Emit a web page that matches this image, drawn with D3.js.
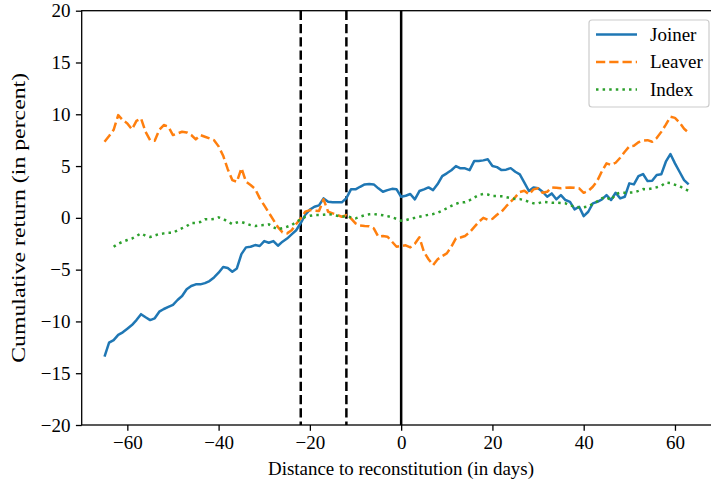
<!DOCTYPE html>
<html><head><meta charset="utf-8">
<script src="https://cdn.jsdelivr.net/npm/d3@7"></script>
<style>body{margin:0;background:#fff}svg{display:block}text{font-family:"Liberation Serif","DejaVu Serif",serif}</style>
</head><body><svg id="c" width="711" height="487"></svg>
<script>
const days = d3.range(-65, 64);
const joiner = [-13.4,-12.05,-11.8,-11.3,-11.05,-10.7,-10.35,-9.87,-9.3,-9.6,-9.87,-9.7,-9.06,-8.8,-8.6,-8.4,-7.93,-7.55,-6.9,-6.58,-6.42,-6.42,-6.3,-6.1,-5.75,-5.3,-4.75,-4.85,-5.2,-4.88,-3.5,-2.85,-2.79,-2.63,-2.72,-2.24,-2.4,-2.24,-2.69,-2.3,-2.0,-1.6,-1.2,-0.5,0.3,0.8,1.07,1.2,1.88,1.55,1.5,1.5,1.5,1.9,2.75,2.75,3.0,3.23,3.26,3.23,2.85,2.52,2.68,2.8,2.75,2.04,2.13,2.3,1.79,2.59,2.75,2.94,2.68,3.26,4.03,4.3,4.6,5.0,4.78,4.78,4.61,5.48,5.48,5.55,5.65,5.0,4.9,4.61,4.65,4.8,4.45,4.2,3.4,2.59,2.94,2.85,2.52,2.04,2.36,1.79,2.2,1.72,1.55,0.82,1.07,0.17,0.59,1.4,1.55,1.79,2.2,1.72,2.42,1.88,2.04,3.33,3.23,4.03,4.23,3.55,3.58,4.13,4.2,5.42,6.16,5.26,4.45,3.65,3.23];
const leaver = [7.35,7.9,8.5,9.92,9.44,9.12,8.54,9.37,9.6,8.3,7.5,7.44,8.5,8.96,8.8,7.99,8.15,8.31,8.25,8.0,7.58,7.99,7.83,7.67,7.5,6.9,6.0,4.7,3.65,3.48,4.8,3.5,3.17,2.8,1.9,1.2,0.5,-0.2,-0.9,-1.4,-1.5,-1.2,-0.6,-0.05,0.6,0.75,0.7,0.66,1.79,0.59,0.43,0.27,0.11,0.27,-0.05,-0.53,-0.75,-0.79,-0.8,-1.01,-1.82,-1.76,-1.82,-2.3,-2.79,-2.72,-2.65,-2.85,-2.5,-1.88,-3.3,-4.0,-4.56,-4.0,-3.69,-3.43,-2.79,-1.98,-1.9,-1.75,-1.4,-0.9,-0.4,0.0,-0.2,-0.1,0.3,0.6,1.1,1.55,2.0,2.5,2.62,2.27,2.75,2.85,2.42,2.52,2.94,2.9,2.85,2.9,2.94,2.9,2.85,2.42,2.6,3.0,3.6,4.5,5.26,5.1,5.32,5.8,6.38,6.9,6.96,7.3,7.45,7.5,7.35,7.7,8.3,9.0,9.76,9.65,9.2,8.6,8.22];
const indexDays = d3.range(-63, 64);
const indexVals = [-2.79,-2.5,-2.3,-2.14,-2.0,-1.75,-1.5,-1.73,-1.85,-1.7,-1.56,-1.5,-1.44,-1.44,-1.2,-1.0,-0.8,-0.5,-0.5,-0.4,-0.14,-0.14,-0.1,0.05,-0.1,-0.35,-0.6,-0.45,-0.4,-0.55,-0.7,-0.79,-0.72,-0.7,-0.63,-0.9,-1.1,-1.0,-0.86,-0.7,-0.4,-0.14,0.1,0.2,0.27,0.27,0.3,0.37,0.3,0.2,0.11,0.17,0.05,-0.05,0.11,0.25,0.34,0.37,0.3,0.25,0.17,0.05,-0.1,-0.28,-0.22,-0.1,0.0,0.1,0.2,0.3,0.37,0.5,0.7,0.92,1.15,1.35,1.5,1.5,1.7,1.95,2.2,2.3,2.25,2.1,2.1,2.08,2.0,1.9,1.82,1.81,1.7,1.55,1.4,1.4,1.55,1.5,1.46,1.46,1.43,1.4,1.2,1.1,1.01,1.01,1.1,1.35,1.6,1.9,2.0,1.7,2.3,2.42,2.42,2.44,2.46,2.6,2.78,2.76,2.85,2.95,3.1,3.4,3.35,3.2,3.07,2.8,2.62];
const xTicks = [-60,-40,-20,0,20,40,60];
const yTicks = [-20,-15,-10,-5,0,5,10,15,20];
const dashedEvents = [-22,-12];
const solidEvents = [0];
const seriesNames = ["Joiner","Leaver","Index"];

const svg = d3.select("#c");
const x = d3.scaleLinear().domain([-70,70]).range([81.7,720.6]);
const y = d3.scaleLinear().domain([-20,20]).range([425,10.7]);
const FS = "19px";
const colors = ["#1f77b4","#ff7f0e","#2ca02c"];
const dashes = [null,"9.25,4","2.5,4.1"];

dashedEvents.forEach(d=>svg.append("line").attr("x1",x(d)).attr("x2",x(d)).attr("y1",y(20)).attr("y2",y(-20))
  .attr("stroke","#000").attr("stroke-width",2.5).attr("stroke-dasharray","9.25,4"));
solidEvents.forEach(d=>svg.append("line").attr("x1",x(d)).attr("x2",x(d)).attr("y1",y(20)).attr("y2",y(-20))
  .attr("stroke","#000").attr("stroke-width",2.5));

const line = d3.line().x(d=>x(d[0])).y(d=>y(d[1]));
const data = [d3.zip(days,joiner), d3.zip(days,leaver), d3.zip(indexDays,indexVals)];
data.forEach((dd,i)=>{
  svg.append("path").attr("d",line(dd)).attr("fill","none").attr("stroke",colors[i])
    .attr("stroke-width",2.5).attr("stroke-linejoin","round").attr("stroke-dasharray",dashes[i]);
});

const fmt = d=>d<0?"\u2212"+Math.abs(d):d;
const xa = svg.append("g").attr("transform",`translate(0,${y(-20)})`)
  .call(d3.axisBottom(x).tickValues(xTicks).tickSize(5.8).tickPadding(5).tickFormat(fmt));
const ya = svg.append("g").attr("transform",`translate(${x(-70)},0)`)
  .call(d3.axisLeft(y).tickValues(yTicks).tickSize(5.8).tickPadding(5.5).tickFormat(fmt));
[xa,ya].forEach(a=>{a.select(".domain").remove();a.selectAll("line").attr("stroke","#000").attr("stroke-width",1.3);
  a.selectAll("text").attr("font-size",FS).attr("fill","#000").style("font-family",'"Liberation Serif",serif');});
svg.append("rect").attr("x",x(-70)).attr("y",y(20)).attr("width",x(70)-x(-70)).attr("height",y(-20)-y(20))
  .attr("fill","none").attr("stroke","#000").attr("stroke-width",1.3);

svg.append("text").attr("x",401).attr("y",475).attr("text-anchor","middle").attr("font-size",FS)
  .attr("textLength",266).attr("lengthAdjust","spacingAndGlyphs")
  .text("Distance to reconstitution (in days)");
svg.append("text").attr("transform",`translate(25,${(y(20)+y(-20))/2}) rotate(-90)`).attr("text-anchor","middle")
  .attr("font-size","18px").attr("textLength",290).attr("lengthAdjust","spacingAndGlyphs").text("Cumulative return (in percent)");

const lg = svg.append("g");
lg.append("rect").attr("x",589).attr("y",20).attr("width",120).attr("height",87).attr("rx",3)
  .attr("fill","#fff").attr("fill-opacity",0.8).attr("stroke","#ccc").attr("stroke-width",1.2);
seriesNames.forEach((n,i)=>{
  const yy = 34.5 + i*27.5;
  lg.append("line").attr("x1",596).attr("x2",637).attr("y1",yy).attr("y2",yy).attr("stroke",colors[i])
    .attr("stroke-width",2.5).attr("stroke-dasharray",dashes[i]);
  lg.append("text").attr("x",650).attr("y",yy+6).attr("font-size",FS).text(n);
});
</script></body></html>
